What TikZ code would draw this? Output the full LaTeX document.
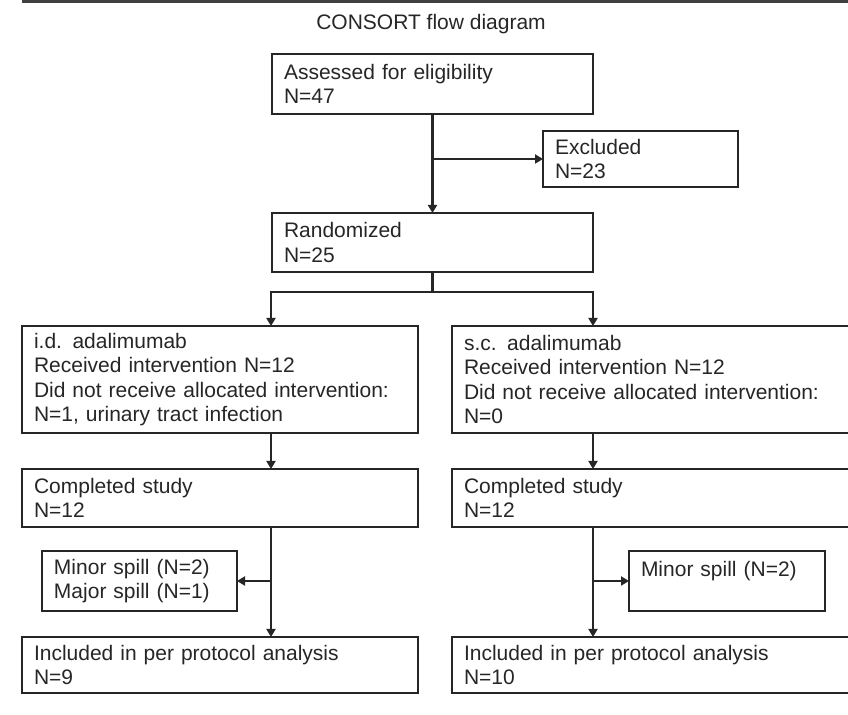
\documentclass[tikz,border=0pt]{standalone}
\usepackage{fontspec}
\setmainfont{Liberation Sans}
\usetikzlibrary{arrows.meta}

\begin{document}
\begin{tikzpicture}[x=0.5pt,y=-0.5pt,>={Triangle[length=4pt,width=4.5pt]},
  font=\fontsize{10.5}{12.25}\selectfont,line width=1.2pt,color=black!85,
  flowbox/.style={draw,rectangle,anchor=north west,align=left,
    inner xsep=6pt,inner ysep=0pt,outer sep=0pt}]
\useasboundingbox (0,0) rectangle (848,715);
\draw[black!75,line width=1.5pt] (22,1.5) -- (848,1.5);
\node (title) at (431,24) {CONSORT flow diagram};

\node[flowbox,text width=148.5pt,minimum height=30pt] (assess) at (272,54)
  {Assessed for eligibility\\N=47};
\node[flowbox,text width=85.5pt,minimum height=28pt] (excl) at (543,131)
  {Excluded\\N=23};
\node[flowbox,text width=148.5pt,minimum height=29.5pt] (rand) at (272,213)
  {Randomized\\N=25};

\node[flowbox,text width=186pt,minimum height=53.5pt] (idbox) at (22,326)
  {i.d. adalimumab\\Received intervention N=12\\Did not receive allocated intervention:\\N=1, urinary tract infection};
\node[flowbox,text width=187pt,minimum height=53.5pt] (scbox) at (452,326)
  {s.c. adalimumab\\Received intervention N=12\\Did not receive allocated intervention:\\N=0};
\node[flowbox,text width=186pt,minimum height=29pt] (idcomp) at (22,469)
  {Completed study\\N=12};
\node[flowbox,text width=187pt,minimum height=29pt] (sccomp) at (452,469)
  {Completed study\\N=12};
\node[flowbox,text width=85.5pt,minimum height=30pt] (idspill) at (42,551)
  {Minor spill (N=2)\\Major spill (N=1)};
\node[flowbox,text width=86pt,minimum height=30pt] (scspill) at (629,551)
  {Minor spill (N=2)\\\mbox{}};
\node[flowbox,text width=186pt,minimum height=28pt] (idincl) at (22,637)
  {Included in per protocol analysis\\N=9};
\node[flowbox,text width=187pt,minimum height=28pt] (scincl) at (452,637)
  {Included in per protocol analysis\\N=10};

\coordinate (lcol) at (271,0);
\coordinate (rcol) at (593,0);

\draw[->] (assess.south) -- (rand.north);
\draw[->] (assess.south |- excl.west) -- (excl.west);
\draw (rand.south) -- ++(0,20) coordinate (split);
\draw[->] (split) -| (lcol |- idbox.north);
\draw[->] (split) -| (rcol |- scbox.north);
\draw[->] (lcol |- idbox.south) -- (lcol |- idcomp.north);
\draw[->] (rcol |- scbox.south) -- (rcol |- sccomp.north);
\draw[->] (lcol |- idcomp.south) -- (lcol |- idincl.north);
\draw[->] (rcol |- sccomp.south) -- (rcol |- scincl.north);
\draw[->] (lcol |- idspill.east) -- (idspill.east);
\draw[->] (rcol |- scspill.west) -- (scspill.west);
\end{tikzpicture}
\end{document}
